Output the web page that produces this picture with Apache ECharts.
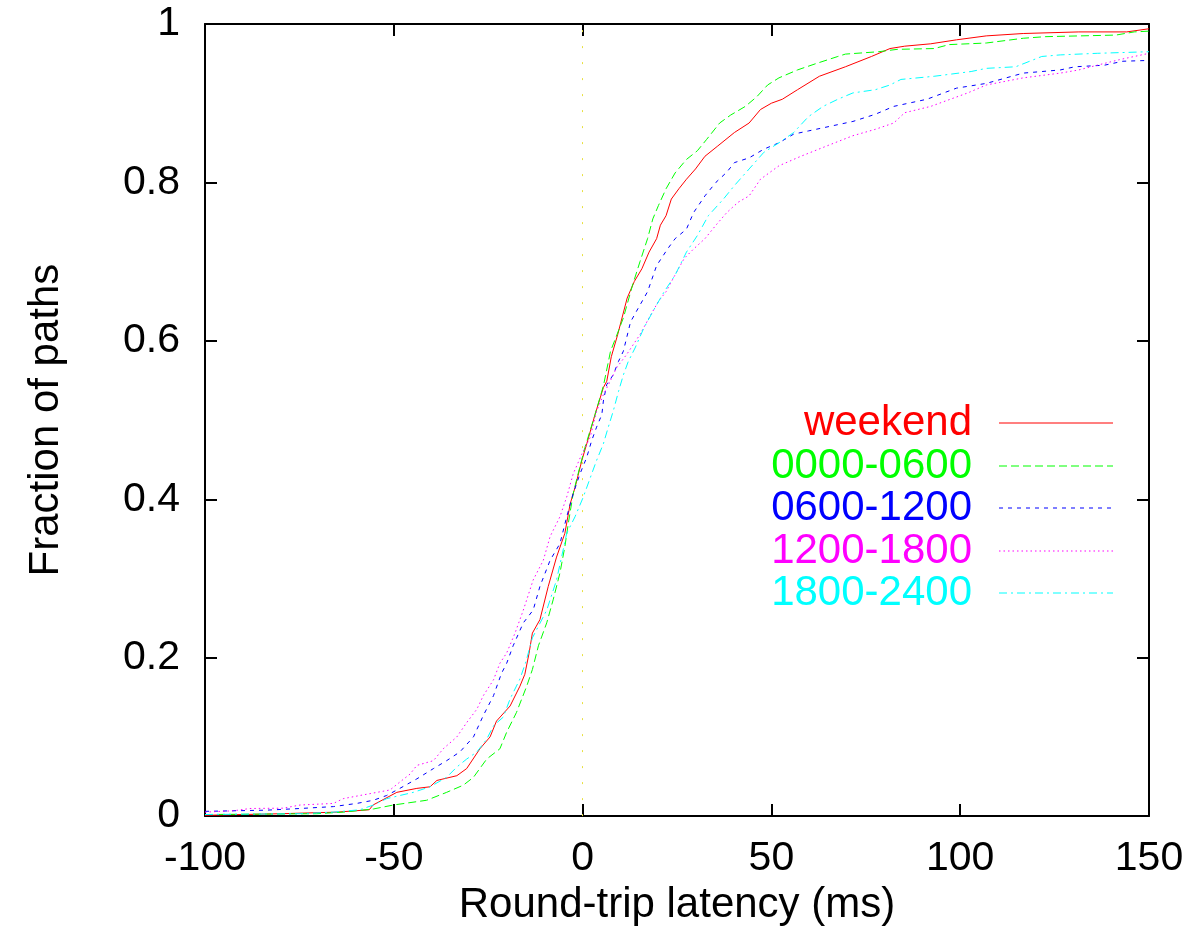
<!DOCTYPE html>
<html>
<head>
<meta charset="utf-8">
<title>Round-trip latency CDF</title>
<script src="https://cdn.jsdelivr.net/npm/echarts@6/dist/echarts.min.js"></script>
<style>
  html, body { margin: 0; padding: 0; background: #fff; }
  #chart { width: 1190px; height: 931px; }
</style>
</head>
<body>
<div id="chart"></div>
<script>
// axis ticks
const xTicks = [-100, -50, 0, 50, 100, 150]
const yTicks = [0, 0.2, 0.4, 0.6, 0.8, 1]

const seriesNames = ['weekend', '0000-0600', '0600-1200', '1200-1800', '1800-2400']

// weekend
const weekendX = [-100, -80, -65, -56.5, -55.5, -49.2, -43.9, -40.4, -38.6, -33.3, -30.7, -27.2, -24.5, -22.8, -19.2, -16.6, -15.3, -14.2, -13.3, -11.3, -9.1, -6.9, -4.7, -3.3, -2.0, -0.2, 1.1, 3.3, 5.5, 6.4, 7.6, 9.3, 11.8, 13.7, 15.7, 17.6, 19.6, 20.6, 22.1, 23.5, 25.5, 27.5, 29.9, 32.4, 35.8, 40.2, 44.1, 47.1, 50.0, 52.9, 56.9, 62.7, 69.6, 76.5, 81.4, 85.3, 92.2, 99.0, 106.9, 116.7, 131.4, 144.1, 150]
const weekendY = [0.001, 0.003, 0.005, 0.008, 0.014, 0.03, 0.035, 0.037, 0.045, 0.051, 0.06, 0.085, 0.10, 0.12, 0.139, 0.164, 0.179, 0.205, 0.231, 0.248, 0.29, 0.327, 0.357, 0.394, 0.415, 0.449, 0.47, 0.507, 0.541, 0.549, 0.58, 0.608, 0.654, 0.675, 0.691, 0.712, 0.729, 0.746, 0.758, 0.779, 0.792, 0.804, 0.817, 0.833, 0.846, 0.863, 0.875, 0.892, 0.900, 0.905, 0.917, 0.934, 0.946, 0.959, 0.969, 0.972, 0.975, 0.98, 0.985, 0.988, 0.99, 0.99, 0.994]

// 0000-0600
const earlyX = [-100, -70.4, -63.4, -55.4, -50.1, -41.3, -36.0, -31.6, -28.9, -25.4, -21.9, -20.1, -17.5, -14.8, -13.3, -11.7, -9.5, -7.8, -6.0, -4.7, -3.8, -2.5, -1.2, 0.6, 3.3, 5.5, 7.4, 8.8, 10.8, 13.2, 15.2, 17.2, 18.6, 20.1, 22.1, 24.5, 27.5, 30.4, 32.8, 36.3, 39.2, 43.1, 46.1, 49.0, 52.0, 56.9, 61.8, 67.6, 69.6, 78.4, 83.3, 93.1, 97.1, 106.9, 116.7, 122.5, 141.2, 146.1, 150]
const earlyY = [0.002, 0.003, 0.005, 0.009, 0.014, 0.02, 0.03, 0.039, 0.049, 0.072, 0.085, 0.106, 0.131, 0.164, 0.185, 0.215, 0.244, 0.273, 0.307, 0.34, 0.369, 0.407, 0.432, 0.465, 0.507, 0.543, 0.587, 0.604, 0.629, 0.67, 0.70, 0.729, 0.754, 0.771, 0.792, 0.812, 0.829, 0.84, 0.854, 0.875, 0.885, 0.896, 0.908, 0.923, 0.932, 0.942, 0.95, 0.959, 0.962, 0.965, 0.968, 0.969, 0.974, 0.976, 0.982, 0.984, 0.986, 0.99, 0.991]

// 0600-1200
const morningX = [-100, -83.7, -74.8, -66.0, -59.8, -55.4, -51.9, -48.4, -43.9, -39.5, -36.0, -32.5, -28.9, -26.3, -23.6, -21.5, -20.1, -18.4, -15.7, -13.1, -11.3, -8.6, -6.0, -4.2, -2.5, -0.7, 1.1, 2.4, 3.7, 5.1, 5.5, 6.4, 8.1, 9.5, 10.8, 12.7, 14.7, 17.2, 19.6, 22.5, 24.5, 27.5, 29.4, 32.4, 35.3, 38.2, 40.2, 44.1, 48.0, 52.0, 55.9, 59.8, 65.7, 71.6, 77.5, 82.4, 91.2, 99.0, 106.9, 116.7, 126.5, 130.4, 138.2, 143.1, 150]
const morningY = [0.006, 0.0075, 0.0096, 0.012, 0.016, 0.02, 0.026, 0.035, 0.047, 0.06, 0.07, 0.081, 0.10, 0.127, 0.152, 0.18, 0.193, 0.215, 0.244, 0.26, 0.29, 0.323, 0.344, 0.378, 0.407, 0.432, 0.453, 0.474, 0.491, 0.507, 0.524, 0.545, 0.557, 0.574, 0.587, 0.624, 0.641, 0.662, 0.695, 0.716, 0.729, 0.741, 0.762, 0.783, 0.80, 0.813, 0.825, 0.831, 0.842, 0.85, 0.861, 0.865, 0.871, 0.877, 0.886, 0.896, 0.905, 0.919, 0.925, 0.938, 0.942, 0.946, 0.948, 0.953, 0.954]

// 1200-1800
const afternoonX = [-100, -92.5, -88.1, -79.3, -74.8, -66.0, -63.4, -59.0, -51.0, -48.4, -45.7, -43.9, -39.5, -36.9, -33.3, -30.7, -28.0, -26.3, -23.6, -21.9, -20.1, -17.9, -15.7, -13.1, -10.4, -8.6, -6.0, -4.2, -2.5, -0.2, 2.0, 3.7, 5.5, 7.3, 9.0, 11.7, 15.2, 17.6, 20.1, 22.1, 24.0, 26.9, 29.4, 32.4, 35.3, 38.2, 41.2, 44.1, 47.1, 52.0, 57.8, 65.7, 71.6, 77.5, 82.4, 85.3, 92.2, 102.0, 106.9, 116.7, 126.5, 131.4, 136.3, 142.2, 150]
const afternoonY = [0.005, 0.0067, 0.0096, 0.01, 0.014, 0.016, 0.022, 0.026, 0.033, 0.043, 0.053, 0.064, 0.07, 0.085, 0.10, 0.118, 0.135, 0.152, 0.172, 0.193, 0.206, 0.231, 0.26, 0.298, 0.323, 0.353, 0.378, 0.403, 0.432, 0.457, 0.478, 0.511, 0.532, 0.549, 0.566, 0.583, 0.608, 0.629, 0.65, 0.662, 0.679, 0.704, 0.716, 0.729, 0.746, 0.762, 0.775, 0.783, 0.804, 0.821, 0.833, 0.848, 0.859, 0.867, 0.875, 0.888, 0.896, 0.913, 0.923, 0.932, 0.938, 0.942, 0.948, 0.955, 0.963]

// 1800-2400
const eveningX = [-100, -74.8, -66.0, -59.0, -55.4, -51.9, -48.4, -44.8, -40.4, -36.0, -33.3, -30.7, -28.0, -25.4, -23.6, -21.0, -19.2, -16.6, -15.0, -13.3, -9.5, -6.9, -4.2, -2.0, 0.2, 2.4, 3.7, 5.5, 6.8, 8.1, 9.5, 10.8, 12.1, 13.9, 16.2, 18.6, 21.6, 24.5, 27.5, 30.4, 33.3, 37.3, 40.2, 44.1, 48.0, 52.0, 55.9, 59.8, 63.7, 67.6, 71.6, 77.5, 81.4, 84.3, 93.1, 102.9, 106.9, 114.7, 121.6, 126.5, 136.3, 150]
const eveningY = [0.002, 0.003, 0.005, 0.008, 0.014, 0.022, 0.026, 0.03, 0.037, 0.049, 0.062, 0.072, 0.081, 0.097, 0.114, 0.125, 0.148, 0.173, 0.195, 0.225, 0.26, 0.298, 0.357, 0.378, 0.403, 0.432, 0.449, 0.47, 0.491, 0.511, 0.536, 0.557, 0.574, 0.591, 0.616, 0.637, 0.662, 0.683, 0.712, 0.733, 0.758, 0.779, 0.796, 0.817, 0.838, 0.85, 0.863, 0.883, 0.896, 0.905, 0.913, 0.917, 0.923, 0.93, 0.934, 0.94, 0.944, 0.946, 0.959, 0.961, 0.963, 0.965]

const colors = ['#ff0000', '#00ff00', '#0000ff', '#ff00ff', '#00ffff']
const dashes = ['solid', [8, 4], [4, 5], [1.5, 3], [8, 4, 2, 4]]
const allX = [weekendX, earlyX, morningX, afternoonX, eveningX]
const allY = [weekendY, earlyY, morningY, afternoonY, eveningY]

const font = 'Liberation Sans, Arial, Helvetica, sans-serif'
const chart = echarts.init(document.getElementById('chart'))

const axisCommon = {
  min: xTicks[0],
  max: xTicks[xTicks.length - 1],
  interval: 50,
  axisLine: { show: true, onZero: false, lineStyle: { color: '#000', width: 2 } },
  axisTick: { show: true, inside: true, length: 12, lineStyle: { color: '#000', width: 2 } },
  splitLine: { show: false }
}

const series = seriesNames.map((name, i) => ({
  name: name,
  type: 'line',
  showSymbol: false,
  symbol: 'none',
  animation: false,
  data: allX[i].map((x, j) => [x, allY[i][j]]),
  lineStyle: { color: colors[i], width: 1, type: dashes[i] },
  z: 3
}))

// dotted zero line
series[0].markLine = {
  silent: true,
  symbol: 'none',
  label: { show: false },
  lineStyle: { color: '#e8e040', width: 1, type: [2, 14] },
  data: [{ xAxis: 0 }]
}

// legend drawn by hand: text right-aligned, sample line to the right
const legendRows = [423, 466, 508, 551, 593]
const legendGraphics = []
seriesNames.forEach((name, i) => {
  const y = legendRows[i]
  legendGraphics.push({
    type: 'text',
    x: 972,
    y: y,
    style: {
      text: name,
      fill: colors[i],
      font: '42px ' + font,
      textAlign: 'right',
      textVerticalAlign: 'middle'
    }
  })
  legendGraphics.push({
    type: 'line',
    shape: { x1: 999, y1: y, x2: 1113, y2: y },
    style: {
      stroke: colors[i],
      lineWidth: 1.2,
      lineDash: dashes[i] === 'solid' ? null : dashes[i]
    }
  })
})

chart.setOption({
  animation: false,
  backgroundColor: '#fff',
  grid: { left: 205, right: 41, top: 24, bottom: 110 },
  xAxis: [
    Object.assign({}, axisCommon, {
      type: 'value',
      position: 'bottom',
      name: 'Round-trip latency (ms)',
      nameLocation: 'middle',
      nameGap: 58,
      nameTextStyle: { color: '#000', fontSize: 42, fontFamily: font },
      axisLabel: { show: true, margin: 22, color: '#000', fontSize: 41, fontFamily: font }
    }),
    Object.assign({}, axisCommon, {
      type: 'value',
      position: 'top',
      axisLabel: { show: false }
    })
  ],
  yAxis: [
    Object.assign({}, axisCommon, {
      type: 'value',
      min: yTicks[0],
      max: yTicks[yTicks.length - 1],
      interval: 0.2,
      position: 'left',
      name: 'Fraction of paths',
      nameLocation: 'middle',
      nameGap: 138,
      nameTextStyle: { color: '#000', fontSize: 42, fontFamily: font },
      axisLabel: { show: true, margin: 25, color: '#000', fontSize: 41, fontFamily: font }
    }),
    Object.assign({}, axisCommon, {
      type: 'value',
      min: yTicks[0],
      max: yTicks[yTicks.length - 1],
      interval: 0.2,
      position: 'right',
      axisLabel: { show: false }
    })
  ],
  graphic: legendGraphics,
  series: series
})

window.addEventListener('resize', () => {
  chart.resize()
})
</script>
</body>
</html>
